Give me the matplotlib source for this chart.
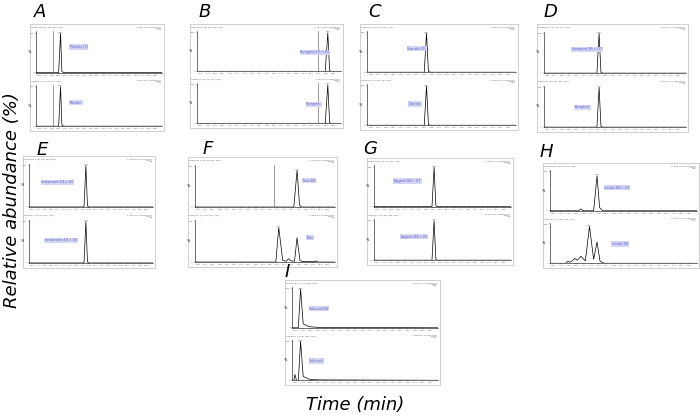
import numpy as np
import matplotlib
matplotlib.use('Agg')
import matplotlib.pyplot as plt

#--panel frames in pixels (x0, y0, x1, y1)
panels = ['A', 'B', 'C', 'D', 'E', 'F', 'G', 'H', 'I']
frames = [(30, 24, 164, 131), (190, 24, 343, 128), (360, 24, 518, 130), (537, 24, 688, 132),
          (23, 156, 155, 268), (188, 157, 337, 267), (367, 158, 513, 265), (543, 163, 699, 268),
          (285, 280, 440, 385)]
letter_pos = [(40, 12), (205, 12), (375, 12), (550, 12), (42, 150), (208, 149), (370, 149),
              (546, 152), (287, 272)]

#--traces (retention time in min, relative abundance)
top_t = {
    'A': [0.10, 0.80, 0.86, 0.90, 0.96, 4.00],
    'B': [0.10, 3.58, 3.65, 3.70, 3.74, 4.00],
    'C': [0.10, 1.60, 1.66, 1.71, 1.76, 4.00],
    'D': [0.10, 1.56, 1.62, 1.67, 1.72, 4.00],
    'E': [0.10, 1.83, 1.89, 1.94, 1.99, 4.00],
    'F': [0.10, 2.86, 2.95, 3.02, 3.08, 4.00],
    'G': [0.10, 1.76, 1.82, 1.87, 1.92, 4.00],
    'H': [0.10, 0.86, 0.92, 0.98, 1.26, 1.35, 1.42, 1.50, 4.00],
    'I': [0.10, 0.27, 0.33, 0.40, 0.55, 0.80, 4.00],
}
top_y = {
    'A': [0, 0, 100, 3, 0, 0],
    'B': [0, 0, 100, 2, 0, 0],
    'C': [0, 0, 100, 2, 0, 0],
    'D': [0, 0, 100, 2, 0, 0],
    'E': [0, 0, 100, 2, 0, 0],
    'F': [0, 0, 90, 5, 0, 0],
    'G': [0, 0, 100, 2, 0, 0],
    'H': [0, 0, 5, 0, 0, 90, 8, 0, 0],
    'I': [0, 0, 100, 10, 3, 1, 0],
}
bot_t = {
    'A': [0.10, 0.80, 0.86, 0.90, 0.96, 4.00],
    'B': [0.10, 3.58, 3.65, 3.70, 3.74, 4.00],
    'C': [0.10, 1.60, 1.66, 1.71, 1.76, 4.00],
    'D': [0.10, 1.56, 1.62, 1.67, 1.72, 4.00],
    'E': [0.10, 1.83, 1.89, 1.94, 1.99, 4.00],
    'F': [0.10, 2.36, 2.44, 2.55, 2.65, 2.71, 2.78, 2.88, 2.95, 3.03, 3.10, 3.45, 3.49, 3.53, 4.00],
    'G': [0.10, 1.76, 1.82, 1.87, 1.92, 4.00],
    'H': [0.10, 0.52, 0.57, 0.64, 0.76, 0.83, 0.92, 1.04, 1.15, 1.26, 1.35, 1.43, 1.55, 4.00],
    'I': [0.10, 0.15, 0.18, 0.22, 0.27, 0.33, 0.40, 0.55, 0.80, 4.00],
}
bot_y = {
    'A': [0, 0, 100, 3, 0, 0],
    'B': [0, 0, 100, 2, 0, 0],
    'C': [0, 0, 100, 2, 0, 0],
    'D': [0, 0, 100, 2, 0, 0],
    'E': [0, 0, 100, 2, 0, 0],
    'F': [0, 0, 85, 4, 2, 8, 3, 2, 60, 4, 1, 1, 3, 0, 0],
    'G': [0, 0, 100, 2, 0, 0],
    'H': [0, 0, 5, 3, 12, 8, 18, 6, 95, 10, 55, 5, 0, 0],
    'I': [0, 0, 15, 0, 0, 100, 10, 3, 1, 0],
}
#--grey marker lines (min)
top_vline = {'A': 0.61, 'B': 3.38, 'F': 2.32}
bot_vline = {'A': 0.61, 'B': 3.38}

#--compound label boxes (axes fraction)
labels = {
    'A': ('Phloretin 273', 'Phloretin'), 'B': ('Naringenin 271 > 151', 'Naringenin'),
    'C': ('Quercetin 301', 'Quercetin'), 'D': ('Kaempferol 285 > 117', 'Kaempferol'),
    'E': ('Isorhamnetin 315 > 300', 'Isorhamnetin 315 > 300'), 'F': ('Rutin 609', 'Rutin'),
    'G': ('Apigenin 269 > 117 ', 'Apigenin 269 > 151'), 'H': ('Luteolin 285 > 133', 'Luteolin 285'),
    'I': ('Gallic acid 169', 'Gallic acid'),
}
label_xy_top = {'A': (0.27, 0.6), 'B': (0.72, 0.45), 'C': (0.27, 0.55), 'D': (0.2, 0.55),
                'E': (0.1, 0.55), 'F': (0.77, 0.6), 'G': (0.15, 0.6), 'H': (0.37, 0.55), 'I': (0.12, 0.45)}
label_xy_bot = {'A': (0.27, 0.55), 'B': (0.76, 0.45), 'C': (0.28, 0.5), 'D': (0.22, 0.45),
                'E': (0.13, 0.5), 'F': (0.8, 0.55), 'G': (0.2, 0.55), 'H': (0.42, 0.45), 'I': (0.12, 0.45)}

x_ticks = np.round(np.arange(0.20, 4.00, 0.20), 2)

W, H = 700., 417.


def px_rect(x0, y0, x1, y1):
    return [x0/W, 1-y1/H, (x1-x0)/W, (y1-y0)/H]


def chrom(fig, x0, y0, x1, y1, t, y, vline, lab, lxy, header):
    w = x1-x0; h = y1-y0
    ax = fig.add_axes(px_rect(x0+0.045*w, y0+0.14*h, x1-0.015*w, y1-0.09*h))
    ax.patch.set_alpha(0)
    ax.plot(t, y, '-', color='k', lw=0.5)
    if vline is not None:
        ax.axvline(vline, 0, 1, color='0.45', lw=0.5)
    ax.set_xlim(0.1, 4.0)
    ax.set_ylim(0, 104)
    for s in ['top', 'right']: ax.spines[s].set_visible(False)
    for s in ['left', 'bottom']: ax.spines[s].set_linewidth(0.4)
    ax.set_xticks(x_ticks)
    ax.set_xticklabels(['%.2f' % v for v in x_ticks])
    ax.set_yticks([0, 100])
    ax.set_yticklabels(['0', '100'])
    ax.tick_params(axis='both', length=1, width=0.3, pad=0.5, labelsize=1.6, colors='0.35')
    ax.text(-0.035, 0.5, '%', transform=ax.transAxes, fontsize=2.5, ha='right', va='center')
    #--apex label
    i = int(np.argmax(y))
    ax.text(t[i], y[i]+1, '%.2f' % t[i], fontsize=1.6, ha='center', va='bottom', color='0.35')
    ax.text(lxy[0], lxy[1], lab, transform=ax.transAxes, fontsize=1.9, color='#5a5ac0',
            bbox=dict(facecolor='#d4d5f4', edgecolor='none', pad=0.5))
    ax.text(-0.04, 1.08, header, transform=ax.transAxes, fontsize=1.6, color='0.35', va='bottom')
    ax.text(1.0, 1.12, '1: MRM of 2 Channels ES+\n2.00e5\nArea', transform=ax.transAxes,
            fontsize=1.4, color='0.35', ha='right', va='top', linespacing=1.0)
    return ax


fig = plt.figure(figsize=(7, 4.17), dpi=100)

for k, name in enumerate(panels):
    x0, y0, x1, y1 = frames[k]
    frame = fig.add_axes(px_rect(x0, y0, x1, y1))
    frame.set_xticks([]); frame.set_yticks([])
    for s in frame.spines.values():
        s.set_color('#cfcfcf'); s.set_linewidth(0.7)
    ym = 0.5*(y0+y1)
    chrom(fig, x0, y0, x1, ym, top_t[name], top_y[name], top_vline.get(name), labels[name][0],
          label_xy_top[name], 'Standard 1 (%s) Sm (Mn, 2x3)' % name)
    chrom(fig, x0, ym, x1, y1, bot_t[name], bot_y[name], bot_vline.get(name), labels[name][1],
          label_xy_bot[name], 'Sample 1 (%s) Sm (Mn, 2x3)' % name)
    lx, ly = letter_pos[k]
    fig.text(lx/W, 1-ly/H, name, fontsize=13, style='italic', ha='center', va='center')

fig.text(12/W, 1-200/H, 'Relative abundance (%)', rotation=90, fontsize=13, style='italic',
         ha='center', va='center')
fig.text(355/W, 1-405/H, 'Time (min)', fontsize=13, style='italic', ha='center', va='center')

fig.savefig('out.png', dpi=100)
